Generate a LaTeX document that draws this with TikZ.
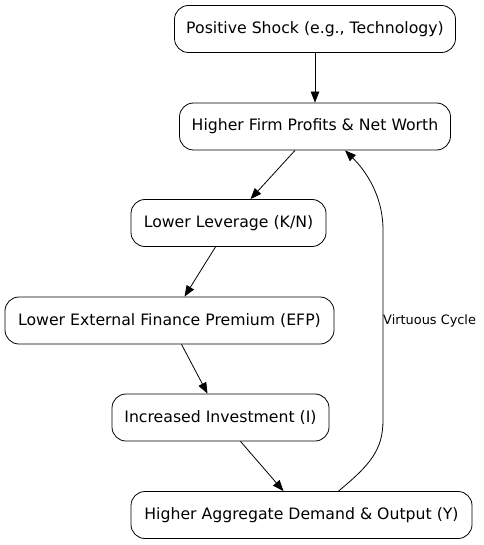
\documentclass[tikz,border=0pt]{standalone}
\usepackage{fontspec}
\setmainfont{DejaVu Sans}
\usetikzlibrary{arrows.meta,calc}
\begin{document}
\begin{tikzpicture}[x=1pt,y=-1pt,
  box/.style={draw,rounded corners=14pt,minimum height=47pt,inner sep=0pt,font=\fontsize{15.7}{18}\selectfont,line width=0.8pt},
  arr/.style={line width=0.8pt,-{Triangle[length=11pt,width=8.5pt]}}]
\useasboundingbox (0,0) rectangle (483,545);
\node[box,minimum width=281pt] (n1) at (315,29) {Positive Shock (e.g., Technology)};
\node[box,minimum width=271pt] (n2) at (315,126.5) {Higher Firm Profits \& Net Worth};
\node[box,minimum width=195pt] (n3) at (228.5,223) {Lower Leverage (K/N)};
\node[box,minimum width=329pt] (n4) at (169.5,320.5) {Lower External Finance Premium (EFP)};
\node[box,minimum width=217pt] (n5) at (220.5,417.5) {Increased Investment (I)};
\node[box,minimum width=341pt] (n6) at (301.5,515) {Higher Aggregate Demand \& Output (Y)};
\draw[arr] (n1) -- (n2);
\draw[arr] ($(n2.south)+(-20,0)$) -- ($(n3.north)+(22,0)$);
\draw[arr] ($(n3.south)+(-13,0)$) -- ($(n4.north)+(15,0)$);
\draw[arr] ($(n4.south)+(12,0)$) -- ($(n5.north)+(-13,0)$);
\draw[arr] ($(n5.south)+(20,0)$) -- ($(n6.north)+(-18,0)$);
\draw[arr] ($(n6.north)+(37,0)$) .. controls (370,465) and (383,450) .. (383,420)
  -- (383,230) .. controls (383,195) and (365,170) .. ($(n2.south)+(30,0)$);
\node[font=\fontsize{12.9}{15}\selectfont,anchor=west,inner sep=0pt] (lab) at (383,320.5) {Virtuous Cycle};
\end{tikzpicture}
\end{document}
